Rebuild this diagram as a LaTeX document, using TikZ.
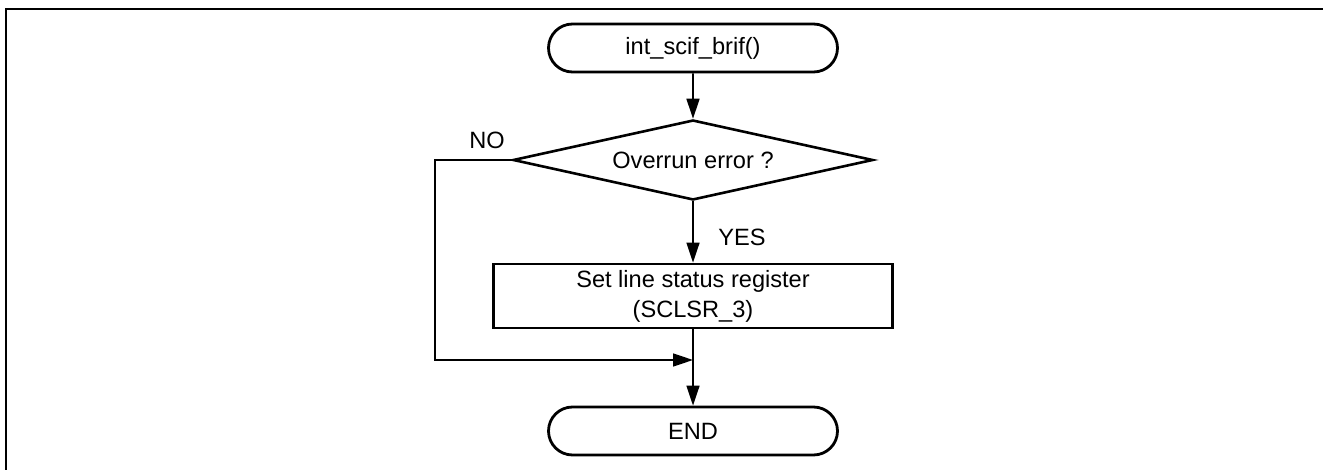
\documentclass[tikz,border=0pt]{standalone}
\usepackage{fontspec}
\setmainfont{Liberation Sans}
\usepackage{tikz}
\usetikzlibrary{arrows.meta, positioning, shapes.geometric, shapes.misc}

\tikzset{
    terminal/.style={draw, line width=1.4pt, rounded rectangle, minimum width=144.5pt, minimum height=24pt, inner sep=0pt},
    decision/.style={draw, line width=1.3pt, diamond, shape aspect=4.5, minimum width=180pt, minimum height=40pt, inner sep=0pt},
    process/.style={draw, line width=1.4pt, rectangle, minimum width=199.5pt, minimum height=32pt, inner sep=0pt, align=center},
    flow/.style={line width=0.8pt, -{Triangle[length=10pt, width=6.5pt]}},
    link/.style={line width=0.8pt}
}

\begin{document}
\begin{tikzpicture}[x=0.5pt, y=-0.5pt, font=\fontsize{11.8}{15}\selectfont]
    \useasboundingbox (0,0) rectangle (1323,470);
    % frame
    \draw[line width=1.3pt] (6,470) |- (1323,9);

    % nodes
    \node[terminal] (start) at (693,48) {int\_scif\_brif()};
    \node[decision] (overrun) at (693,160) {Overrun error ?};
    \node[process] (setlsr) at (693,296) {Set line status register\\(SCLSR\_3)};
    \node[terminal] (stop) at (693,431) {END};

    \coordinate (nocorner) at (435,160);
    \coordinate (join) at (693,360);

    % connectors
    \draw[flow] (start) -- (overrun);
    \draw[flow] (overrun) -- (setlsr);
    \draw[link] (setlsr) -- (join);
    \draw[flow] (overrun.west) -- (nocorner) |- (join);
    \draw[flow] (join) -- (stop);

    % labels
    \node at (487,140) {NO};
    \node at (742,237) {YES};
\end{tikzpicture}
\end{document}
